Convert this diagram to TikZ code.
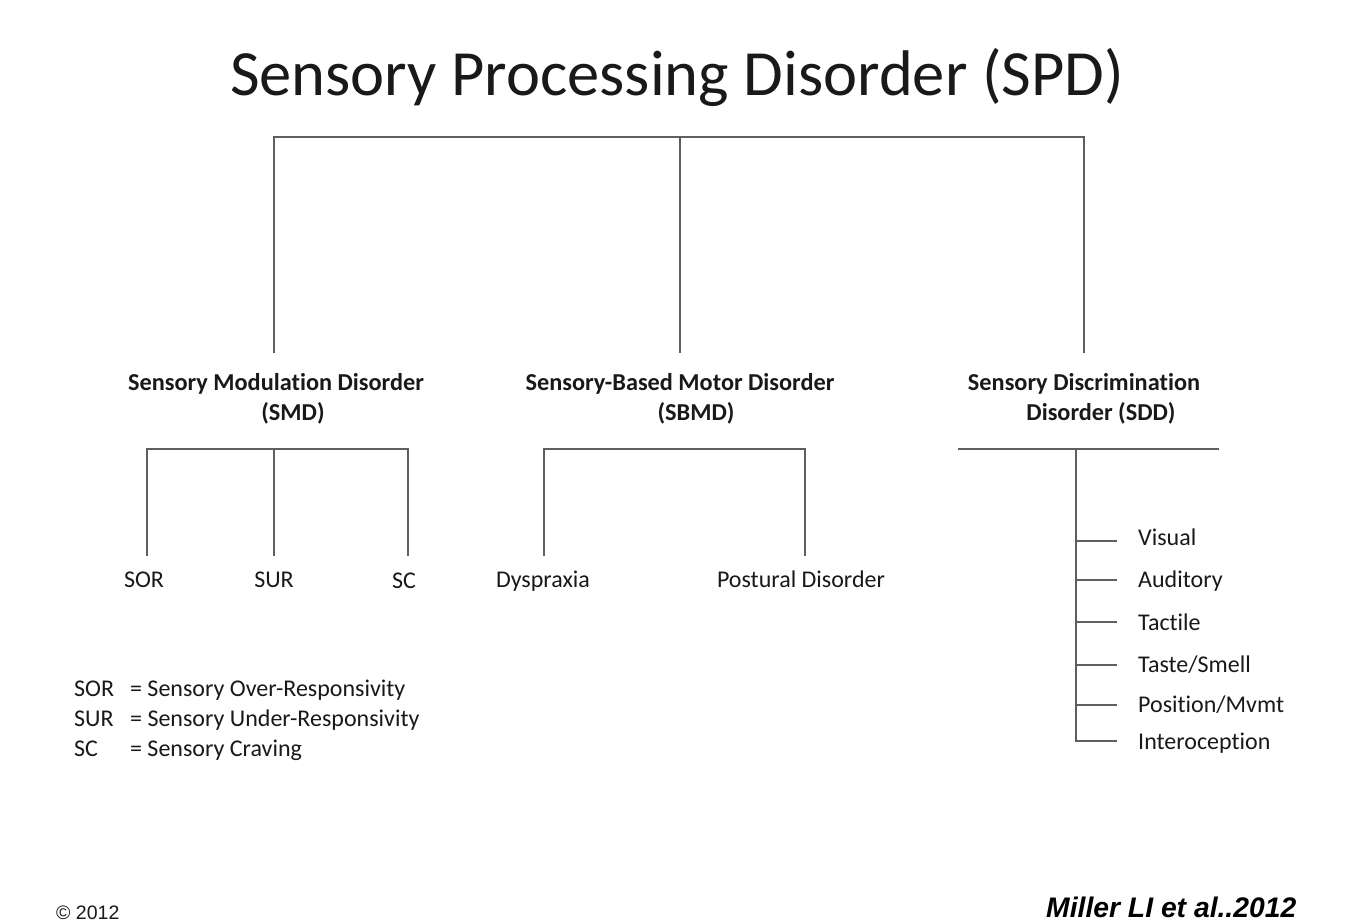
\documentclass[tikz,border=0pt]{standalone}
\usepackage{fontspec}
\setmainfont{Carlito}[Ligatures=NoCommon]
\newfontfamily\arialfont{Liberation Sans}
\definecolor{txt}{RGB}{25,25,25}
\definecolor{ln}{RGB}{95,95,95}
\begin{document}
\begin{tikzpicture}[x=1pt,y=-1pt,
  ttl/.style={font=\fontsize{64.5}{70}\selectfont, text=txt, inner sep=0pt, anchor=base},
  head/.style={font=\bfseries\fontsize{24.3}{30}\selectfont, text=txt, inner sep=0pt, anchor=base, align=center},
  leaf/.style={font=\fontsize{24}{30}\selectfont, text=txt, inner sep=0pt, anchor=base},
  sense/.style={font=\fontsize{24}{30}\selectfont, text=txt, inner sep=0pt, anchor=base west},
  tree/.style={draw=ln, line width=1.8pt},
]
\useasboundingbox[fill=white] (0,0) rectangle (1356,921);

% title
\node[ttl] (title) at (677,95) {Sensory Processing Disorder (SPD)};

% headings (base anchor = baseline of last line)
\node[head] (smd) at (276,420) {Sensory Modulation Disorder\\\hspace*{34pt}(SMD)};
\node[head] (sbmd) at (680,420) {Sensory-Based Motor Disorder\\\hspace*{32pt}(SBMD)};
\node[head] (sdd) at (1084,420) {Sensory Discrimination\\\hspace*{34pt}Disorder (SDD)};

% top tree
\coordinate (smdUp) at (274,353);
\coordinate (sbmdUp) at (680,353);
\coordinate (sddUp) at (1084,353);
\coordinate (topM) at (680,137);
\coordinate (topR) at (1084,137);
\draw[tree] (smdUp) |- (topR) -- (sddUp);
\draw[tree] (topM) -- (sbmdUp);

% SMD branch
\coordinate (sorEnd) at (147,556);
\coordinate (surBar) at (274,449);
\coordinate (surEnd) at (274,556);
\coordinate (scBar) at (408,449);
\coordinate (scEnd) at (408,556);
\draw[tree] (sorEnd) |- (scBar) -- (scEnd);
\draw[tree] (surBar) -- (surEnd);
\node[leaf] (sor) at (144,587) {SOR};
\node[leaf] (sur) at (274,587) {SUR};
\node[leaf] (sc) at (404,588) {SC};

% SBMD branch
\coordinate (dysEnd) at (544,556);
\coordinate (posBar) at (805,449);
\coordinate (posEnd) at (805,556);
\draw[tree] (dysEnd) |- (posBar) -- (posEnd);
\node[leaf] (dys) at (543,587) {Dyspraxia};
\node[leaf] (pos) at (801,587) {Postural Disorder};

% SDD branch
\coordinate (sddL) at (958,449);
\coordinate (sddR) at (1219,449);
\coordinate (sddJ) at (1076,449);
\draw[tree] (sddL) -- (sddR);
\coordinate (tv) at (1076,541);
\coordinate (ta) at (1076,580);
\coordinate (tt) at (1076,622);
\coordinate (ts) at (1076,665);
\coordinate (tp) at (1076,705);
\coordinate (tiEnd) at (1117,741);
\draw[tree] (sddJ) |- (tiEnd);
\foreach \c in {tv,ta,tt,ts,tp}{
  \draw[tree] (\c) -- ++(41,0);
}
\node[sense] (vis) at (1138,545) {Visual};
\node[sense] (aud) at (1138,587) {Auditory};
\node[sense] (tac) at (1138,630) {Tactile};
\node[sense] (tas) at (1138,672) {Taste/Smell};
\node[sense] (posm) at (1138,712) {Position/Mvmt};
\node[sense] (inte) at (1138,749) {Interoception};

% legend
\node[leaf, anchor=base west] (legend) at (74,696) {%
  \begin{tabular}[t]{@{}l@{\hspace{16pt}}l@{}}
  SOR & = Sensory Over-Responsivity\\
  SUR & = Sensory Under-Responsivity\\
  SC  & = Sensory Craving
  \end{tabular}};

% footer
\node[inner sep=0pt, anchor=base west, text=txt, font=\arialfont\fontsize{19.5}{22}\selectfont] (copy) at (56,919) {\textcopyright\ 2012};
\node[inner sep=0pt, anchor=base west, text=black, font=\arialfont\bfseries\itshape\fontsize{28.3}{32}\selectfont] (cite) at (1046,917) {Miller LI et al..2012};
\end{tikzpicture}
\end{document}
